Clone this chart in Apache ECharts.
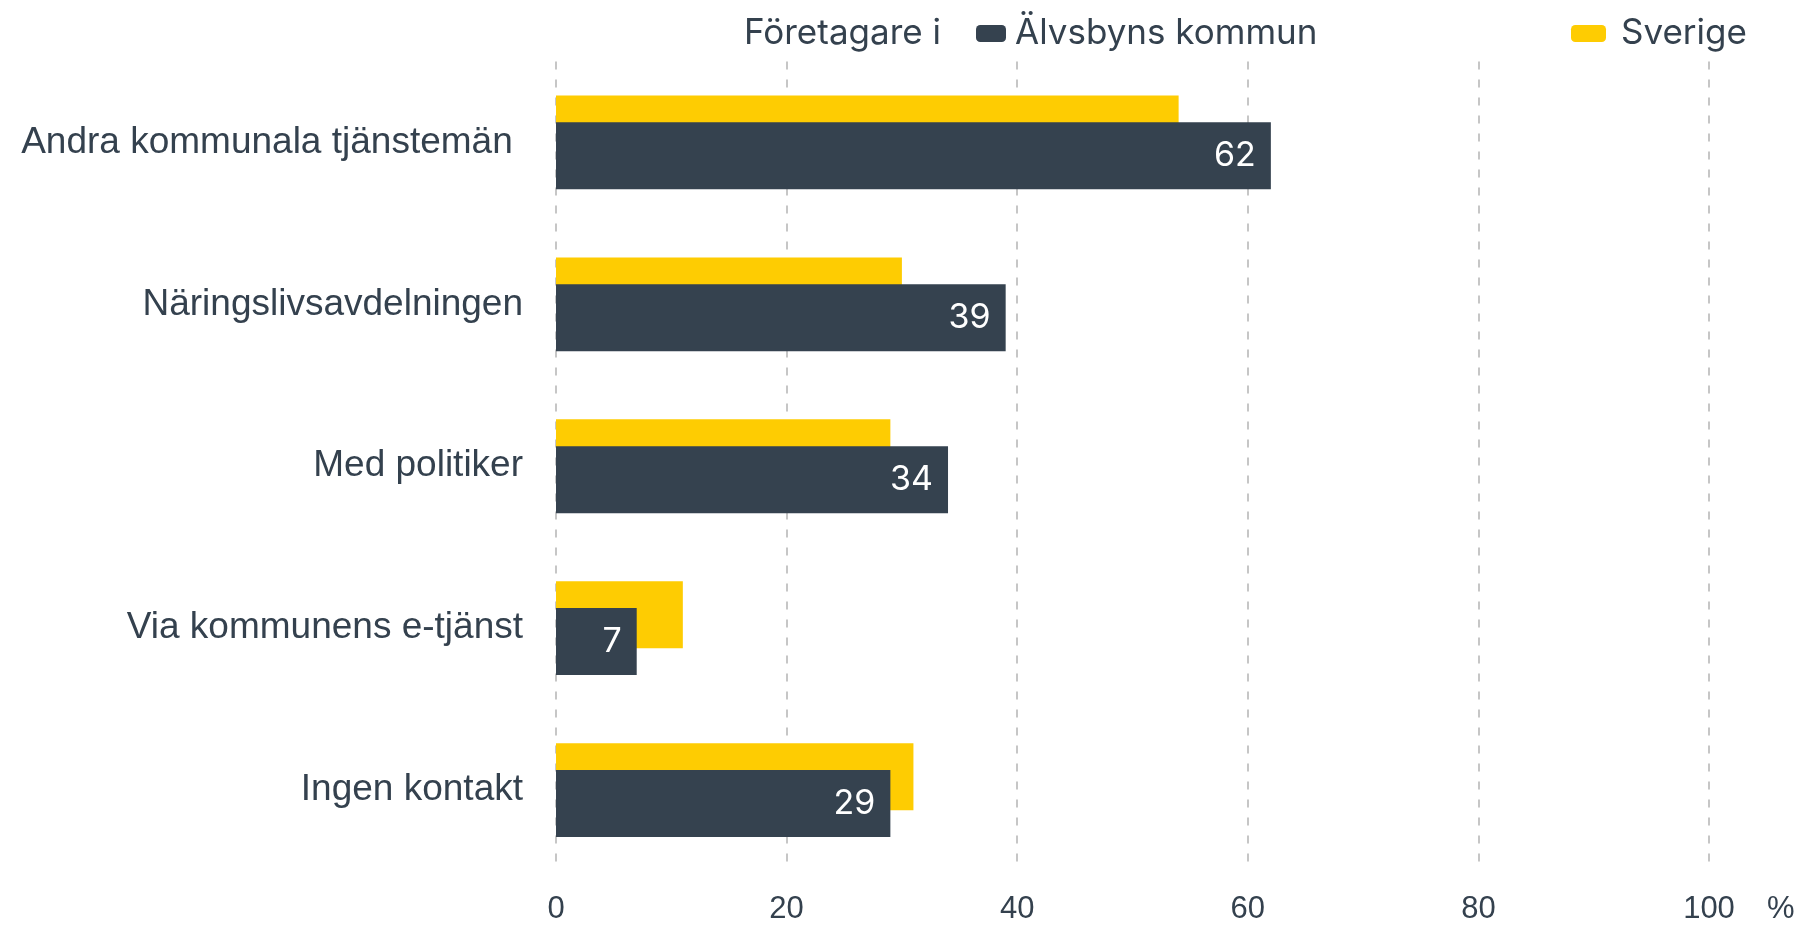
<!DOCTYPE html>
<html>
<head>
<meta charset="utf-8">
<script src="https://cdn.jsdelivr.net/npm/echarts@6/dist/echarts.min.js"></script>
<style>
  html, body { margin: 0; padding: 0; background: #fff; }
  #main { width: 1799px; height: 925px; }
</style>
</head>
<body>
<div id="main"></div>
<script>
var categories = ['Andra kommunala tjänstemän ', 'Näringslivsavdelningen', 'Med politiker', 'Via kommunens e-tjänst', 'Ingen kontakt'];
var kommunValues = [62, 39, 34, 7, 29];
var sverigeValues = [54, 30, 29, 11, 31];
var xTicks = [0, 20, 40, 60, 80, 100];

var textColor = '#34414e';
var darkColor = '#35424f';
var yellowColor = '#fecc02';
var labelFont = 'Inter';

var myChart = echarts.init(document.getElementById('main'));

var option = {
    animation : false,
    backgroundColor : '#ffffff',
    title : {
        text : 'Företagare i',
        left : 744,
        top : 16,
        padding : 0,
        textStyle : {
            fontFamily : labelFont,
            fontSize : 35,
            fontWeight : 'normal',
            color : textColor
        }
    },
    legend : [{
        data : ['Älvsbyns kommun'],
        left : 976,
        top : 16,
        padding : 0,
        itemWidth : 30,
        itemHeight : 17,
        icon : 'roundRect',
        textStyle : {
            fontFamily : labelFont,
            fontSize : 35,
            color : textColor,
            padding : [0, 0, 0, 4]
        }
    }, {
        data : ['Sverige'],
        left : 1571,
        top : 16,
        padding : 0,
        itemWidth : 35,
        itemHeight : 17,
        icon : 'roundRect',
        textStyle : {
            fontFamily : labelFont,
            fontSize : 35,
            color : textColor,
            padding : [0, 0, 0, 10]
        }
    }],
    grid : {
        left : 556,
        right : 90,
        top : 61.5,
        bottom : 53.5,
        containLabel : false
    },
    xAxis : {
        type : 'value',
        min : xTicks[0],
        max : xTicks[xTicks.length - 1],
        interval : xTicks[1] - xTicks[0],
        name : '%',
        nameLocation : 'end',
        nameGap : 58,
        nameTextStyle : {
            fontFamily : 'Liberation Sans',
            fontSize : 31,
            color : textColor,
            verticalAlign : 'top',
            padding : [23, 0, 0, 0]
        },
        axisLine : { show : false },
        axisTick : { show : false },
        axisLabel : {
            margin : 23,
            fontFamily : 'Liberation Sans',
            fontSize : 31,
            color : textColor
        },
        splitLine : {
            show : true,
            lineStyle : {
                color : '#c6c6c6',
                width : 2,
                type : [8, 10]
            }
        }
    },
    yAxis : {
        type : 'category',
        inverse : true,
        data : categories,
        axisLine : { show : false },
        axisTick : { show : false },
        axisLabel : {
            margin : 33,
            fontFamily : 'Liberation Sans',
            fontSize : 37,
            color : textColor
        }
    },
    series : [{
        name : 'Sverige',
        type : 'bar',
        data : sverigeValues,
        barWidth : 67,
        barGap : '-60%',
        itemStyle : { color : yellowColor },
        label : { show : false }
    }, {
        name : 'Älvsbyns kommun',
        type : 'bar',
        data : kommunValues,
        barWidth : 67,
        barGap : '-60%',
        itemStyle : { color : darkColor },
        label : {
            show : true,
            position : 'insideRight',
            distance : 15,
            fontFamily : labelFont,
            fontSize : 34,
            color : '#ffffff'
        }
    }]
};

myChart.setOption(option);
</script>
</body>
</html>
